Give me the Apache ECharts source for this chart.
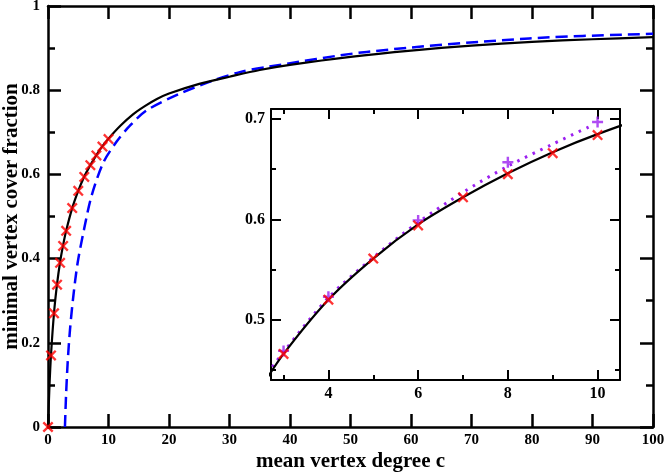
<!DOCTYPE html>
<html>
  <head>
    <meta charset="utf-8">
    <title>minimal vertex cover</title>
    <script src="https://cdn.jsdelivr.net/npm/echarts@6/dist/echarts.min.js"></script>
    <style>
      html,body{margin:0;padding:0;background:#fff;}
      #chart1{width:664px;height:472px;}
    </style>
  </head>
  <body>
    <div id="chart1"></div>
  <script>
    // black solid curve
    var theoryC    = [0, 0.25, 0.5, 1, 1.5, 2, 2.5, 3, 4, 5, 6, 7, 8, 9, 10, 12, 14, 16, 18, 20, 25, 30, 35, 40, 50, 60, 70, 80, 90, 100];
    var theoryFrac = [0, 0.1, 0.172, 0.272, 0.34, 0.392, 0.432, 0.466, 0.52, 0.561, 0.595, 0.622, 0.646, 0.667, 0.685, 0.716, 0.742, 0.762, 0.779, 0.792, 0.815, 0.832, 0.848, 0.86, 0.879, 0.894, 0.906, 0.915, 0.921, 0.926];

    // blue dashed curve
    var dashC    = [2.8, 2.98, 3.25, 3.64, 4.19, 4.9, 5.95, 7.2, 9.15, 11.35, 13.5, 16.3, 21.8, 27.3, 31.7, 36.1, 52.7, 79.5, 100];
    var dashFrac = [0, 0.074, 0.153, 0.232, 0.311, 0.39, 0.469, 0.549, 0.628, 0.678, 0.715, 0.752, 0.792, 0.823, 0.843, 0.855, 0.891, 0.923, 0.934];

    // purple dotted curve (inset)
    var dotC    = [2.75, 3, 4, 5, 6, 7, 8, 9, 9.8];
    var dotFrac = [0.453, 0.468, 0.522, 0.562, 0.597, 0.627, 0.653, 0.675, 0.692];

    // red x points
    var crossC    = [0, 0.5, 1, 1.5, 2, 2.5, 3, 4, 5, 6, 7, 8, 9, 10];
    var crossFrac = [0, 0.17, 0.27, 0.338, 0.39, 0.43, 0.466, 0.52, 0.561, 0.594, 0.622, 0.645, 0.666, 0.684];

    // purple + points
    var plusC    = [3, 4, 6, 8, 10];
    var plusFrac = [0.469, 0.523, 0.599, 0.657, 0.697];

    // inset ticks
    var insetXMajor = [4, 6, 8, 10];
    var insetXMinor = [3, 5, 7, 9];
    var insetYMajor = [0.5, 0.6, 0.7];
    var insetYMinor = [0.45, 0.55, 0.65];

    function pairs(xs, ys) {
      var out = [];
      for (var i = 0; i < xs.length; i++) out.push([xs[i], ys[i]]);
      return out;
    }

    var FONT = 'Liberation Serif';
    var CROSS = 'path://M0,1.5L1.5,0L5,3.5L8.5,0L10,1.5L6.5,5L10,8.5L8.5,10L5,6.5L1.5,10L0,8.5L3.5,5Z';
    var PLUS = 'path://M3.9,0H6.1V3.9H10V6.1H6.1V10H3.9V6.1H0V3.9H3.9Z';

    var lab = function (size, margin) {
      return { show: true, fontFamily: FONT, fontWeight: 'bold', fontSize: size, color: '#000', margin: margin };
    };
    var line = function (w) { return { show: true, onZero: false, lineStyle: { color: '#000', width: w } }; };

    // inset axis helper
    function insetAxis(pos, min, max, ticks, len, labels, showLine) {
      return {
        type: 'value', gridIndex: 1, position: pos, min: min, max: max,
        axisLine: showLine ? line(2) : { show: false },
        axisTick: { show: true, inside: true, length: len, customValues: ticks, lineStyle: { color: '#000', width: 2 } },
        axisLabel: labels ? Object.assign(lab(16, 6), { customValues: ticks }) : { show: false },
        splitLine: { show: false }
      };
    }

    var myChart = echarts.init(document.getElementById('chart1'));
    option = {
      backgroundColor: '#fff',
      animation: false,
      grid: [
        { left: 48, top: 6, width: 605, height: 421, outerBoundsMode: 'none', containLabel: false },
        { left: 271, top: 109, width: 349, height: 271, outerBoundsMode: 'none', containLabel: false }
      ],
      xAxis: [
        {
          type: 'value', gridIndex: 0, position: 'bottom', min: 0, max: 100, interval: 10,
          name: 'mean vertex degree c', nameLocation: 'middle', nameGap: 24, nameMoveOverlap: false,
          nameTextStyle: { fontFamily: FONT, fontWeight: 'bold', fontSize: 21, color: '#000' },
          axisLine: line(2.5),
          axisTick: { inside: true, length: 13, lineStyle: { color: '#000', width: 2.5 } },
          axisLabel: lab(15, 6),
          splitLine: { show: false }
        },
        {
          type: 'value', gridIndex: 0, position: 'top', min: 0, max: 100, interval: 10,
          axisLine: line(2.5),
          axisTick: { inside: true, length: 13, lineStyle: { color: '#000', width: 2.5 } },
          axisLabel: { show: false },
          splitLine: { show: false }
        },
        insetAxis('bottom', 2.72, 10.5, insetXMajor, 10, true, true),
        insetAxis('bottom', 2.72, 10.5, insetXMinor, 5, false, false),
        insetAxis('top', 2.72, 10.5, insetXMajor, 10, false, true),
        insetAxis('top', 2.72, 10.5, insetXMinor, 5, false, false)
      ],
      yAxis: [
        {
          type: 'value', gridIndex: 0, position: 'left', min: 0, max: 1, interval: 0.2,
          name: 'minimal vertex cover fraction', nameLocation: 'middle', nameGap: 26, nameMoveOverlap: false,
          nameTextStyle: { fontFamily: FONT, fontWeight: 'bold', fontSize: 21, color: '#000' },
          axisLine: line(2.5),
          axisTick: { inside: true, length: 13, lineStyle: { color: '#000', width: 2.5 } },
          minorTick: { show: true, splitNumber: 2, length: 7, lineStyle: { color: '#000', width: 2.5 } },
          axisLabel: lab(15, 8),
          splitLine: { show: false }
        },
        {
          type: 'value', gridIndex: 0, position: 'right', min: 0, max: 1, interval: 0.2,
          axisLine: line(2.5),
          axisTick: { inside: true, length: 13, lineStyle: { color: '#000', width: 2.5 } },
          minorTick: { show: true, splitNumber: 2, length: 7, lineStyle: { color: '#000', width: 2.5 } },
          axisLabel: { show: false },
          splitLine: { show: false }
        },
        insetAxis('left', 0.44, 0.71, insetYMajor, 10, true, true),
        insetAxis('left', 0.44, 0.71, insetYMinor, 5, false, false),
        insetAxis('right', 0.44, 0.71, insetYMajor, 10, false, true),
        insetAxis('right', 0.44, 0.71, insetYMinor, 5, false, false)
      ],
      series: [
        {
          type: 'line', xAxisIndex: 0, yAxisIndex: 0, data: pairs(dashC, dashFrac),
          smooth: 0.3, showSymbol: false,
          lineStyle: { color: '#0000ff', width: 2.5, type: [12, 6] }
        },
        {
          type: 'line', xAxisIndex: 0, yAxisIndex: 0, data: pairs(theoryC, theoryFrac),
          smooth: 0.3, showSymbol: false,
          lineStyle: { color: '#000', width: 2.2 }
        },
        {
          type: 'scatter', xAxisIndex: 0, yAxisIndex: 0, data: pairs(crossC, crossFrac),
          symbol: CROSS, symbolSize: 11, clip: false, itemStyle: { color: '#ff0000' }, z: 5
        },
        {
          type: 'line', xAxisIndex: 2, yAxisIndex: 2, data: pairs(dotC, dotFrac),
          smooth: 0.3, showSymbol: false,
          lineStyle: { color: '#9b1ff0', width: 3, type: [2.5, 6] }
        },
        {
          type: 'line', xAxisIndex: 2, yAxisIndex: 2, data: pairs(theoryC, theoryFrac),
          smooth: 0.3, showSymbol: false, clip: true,
          lineStyle: { color: '#000', width: 2.2 }
        },
        {
          type: 'scatter', xAxisIndex: 2, yAxisIndex: 2, data: pairs(plusC, plusFrac),
          symbol: PLUS, symbolSize: 11, itemStyle: { color: '#9b1ff0' }, z: 5
        },
        {
          type: 'scatter', xAxisIndex: 2, yAxisIndex: 2, data: pairs(crossC, crossFrac),
          symbol: CROSS, symbolSize: 11, clip: true, itemStyle: { color: '#ff0000' }, z: 6
        }
      ]
    };

    myChart.setOption(option);
  </script>
  </body>
</html>
